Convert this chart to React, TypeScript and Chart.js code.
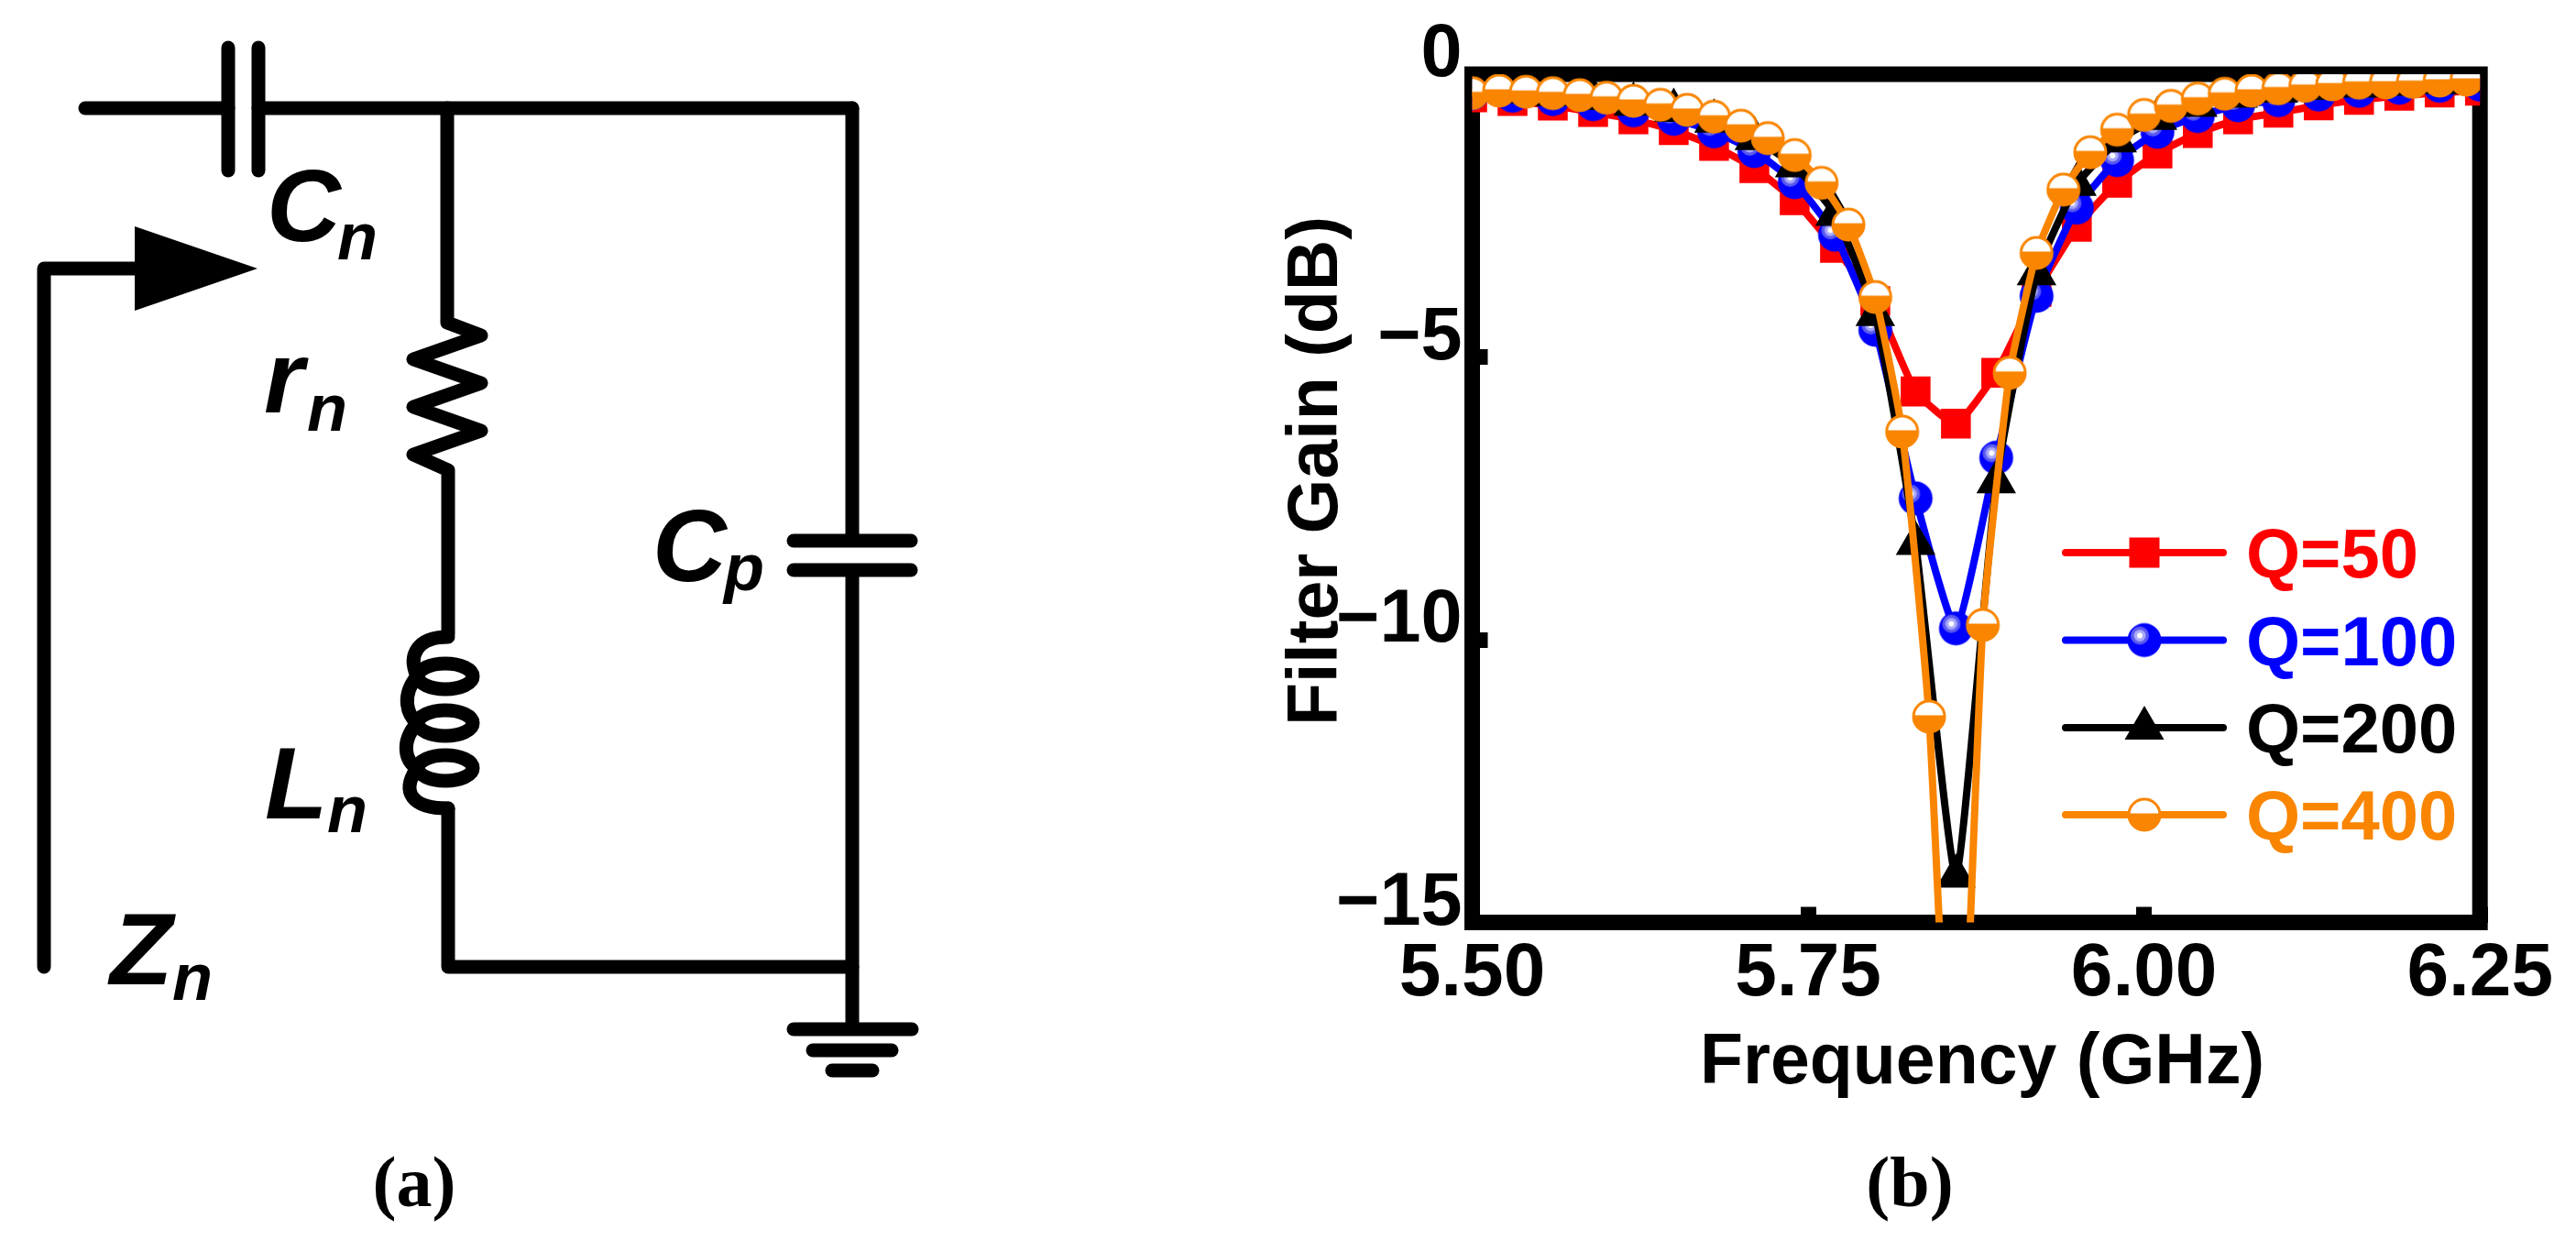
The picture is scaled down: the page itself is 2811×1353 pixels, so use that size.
import React, { useEffect, useRef } from "react";
import { Chart, registerables } from "chart.js";

Chart.register(...registerables);

const FONT = '"Liberation Sans", Arial, sans-serif';
const RED = "#ff0000";
const BLUE = "#0000ff";
const BLACK = "#000000";
const ORANGE = "#f98500";

const freqCoarse = [5.5, 5.53, 5.56, 5.59, 5.62, 5.65, 5.68, 5.71, 5.74, 5.77, 5.8, 5.83, 5.86, 5.89, 5.92, 5.95, 5.98, 6.01, 6.04, 6.07, 6.1, 6.13, 6.16, 6.19, 6.22, 6.25];
const freqFine = [5.5, 5.52, 5.54, 5.56, 5.58, 5.6, 5.62, 5.64, 5.66, 5.68, 5.7, 5.72, 5.74, 5.76, 5.78, 5.8, 5.82, 5.84, 5.86, 5.88, 5.9, 5.92, 5.94, 5.96, 5.98, 6.0, 6.02, 6.04, 6.06, 6.08, 6.1, 6.12, 6.14, 6.16, 6.18, 6.2, 6.22, 6.24];

const q50 = [-0.41, -0.475, -0.556, -0.67, -0.8, -0.99, -1.27, -1.66, -2.23, -3.07, -4.01, -5.61, -6.18, -5.28, -3.85, -2.7, -1.92, -1.4, -1.04, -0.8, -0.68, -0.55, -0.455, -0.38, -0.325, -0.29];
const q100 = [-0.34, -0.38, -0.44, -0.53, -0.64, -0.79, -1.01, -1.36, -1.91, -2.84, -4.52, -7.5, -9.8, -6.78, -3.92, -2.36, -1.52, -1.02, -0.74, -0.55, -0.46, -0.36, -0.295, -0.24, -0.205, -0.185];
const q200 = [-0.27, -0.31, -0.36, -0.43, -0.53, -0.64, -0.83, -1.14, -1.62, -2.48, -4.25, -8.3, -14.18, -7.21, -3.53, -1.95, -1.18, -0.78, -0.55, -0.39, -0.3, -0.25, -0.21, -0.18, -0.15, -0.12];
const q400 = [-0.335, -0.29, -0.31, -0.335, -0.37, -0.415, -0.47, -0.54, -0.63, -0.75, -0.91, -1.13, -1.43, -1.92, -2.66, -3.94, -6.32, -11.36, -20.5, -9.74, -5.28, -3.16, -2.04, -1.38, -0.98, -0.72, -0.56, -0.43, -0.345, -0.29, -0.25, -0.205, -0.18, -0.15, -0.146, -0.135, -0.113, -0.097];

const seriesNames = ["Q=50", "Q=100", "Q=200", "Q=400"];
const seriesColors = [RED, BLUE, BLACK, ORANGE];
const xTicks = [5.5, 5.75, 6.0, 6.25];
const yTicks = [0, -5, -10, -15];
const xTitle = "Frequency (GHz)";
const yTitle = "Filter Gain (dB)";
const captions = ["(a)", "(b)"];

function makeCanvas(size: number) {
  const c = document.createElement("canvas");
  c.width = size;
  c.height = size;
  return c;
}

function blueBall() {
  const c = makeCanvas(40);
  const g = c.getContext("2d")!;
  const m = 20;
  g.fillStyle = BLUE;
  g.beginPath(); g.arc(m, m, 18.5, 0, Math.PI * 2); g.fill();
  g.fillStyle = "#5a5af0";
  g.beginPath(); g.arc(m - 5, m - 5, 10, 0, Math.PI * 2); g.fill();
  g.fillStyle = "#a8a8f8";
  g.beginPath(); g.arc(m - 5, m - 5, 6.5, 0, Math.PI * 2); g.fill();
  g.fillStyle = "#ffffff";
  g.beginPath(); g.arc(m - 5, m - 5, 3, 0, Math.PI * 2); g.fill();
  return c;
}

function halfBall() {
  const c = makeCanvas(40);
  const g = c.getContext("2d")!;
  const m = 20;
  g.fillStyle = "#ffffff";
  g.beginPath(); g.arc(m, m, 17, 0, Math.PI * 2); g.fill();
  g.save();
  g.beginPath(); g.rect(0, m - 1.5, 40, 40); g.clip();
  g.fillStyle = ORANGE;
  g.beginPath(); g.arc(m, m, 18, 0, Math.PI * 2); g.fill();
  g.restore();
  g.strokeStyle = ORANGE;
  g.lineWidth = 3;
  g.beginPath(); g.arc(m, m, 17, 0, Math.PI * 2); g.stroke();
  return c;
}

function drawCircuit(g: CanvasRenderingContext2D) {
  g.save();
  g.strokeStyle = "#000";
  g.fillStyle = "#000";
  g.lineWidth = 15;
  g.lineCap = "round";
  g.lineJoin = "round";
  const path = (pts: number[][]) => {
    g.beginPath();
    pts.forEach((p, i) => (i ? g.lineTo(p[0], p[1]) : g.moveTo(p[0], p[1])));
    g.stroke();
  };
  // series capacitor and top rail
  path([[93, 118], [249, 118]]);
  path([[282, 118], [930, 118]]);
  path([[249, 52], [249, 186]]);
  path([[282, 52], [282, 186]]);
  // shunt branch with resistor
  path([[488, 118], [488, 352], [525, 366], [451, 392], [525, 418], [451, 444], [525, 470], [451, 496], [489, 513], [489, 692]]);
  // inductor
  g.beginPath();
  g.moveTo(489, 695);
  g.bezierCurveTo(455, 695, 445, 715, 455, 738);
  g.bezierCurveTo(437, 760, 445, 780, 455, 789);
  g.bezierCurveTo(437, 810, 442, 830, 455, 838);
  g.bezierCurveTo(437, 865, 450, 882, 489, 882);
  g.stroke();
  [738, 789, 838].forEach((y) => {
    g.beginPath();
    g.ellipse(486, y, 30, 14, 0, 0, Math.PI * 2);
    g.stroke();
  });
  path([[489, 882], [489, 1055], [930, 1055]]);
  // right rail with shunt capacitor
  path([[930, 118], [930, 587]]);
  path([[930, 623], [930, 1122]]);
  path([[866, 590], [994, 590]]);
  path([[866, 622], [994, 622]]);
  // ground
  path([[866, 1123], [995, 1123]]);
  path([[887, 1146], [973, 1146]]);
  path([[908, 1168], [952, 1168]]);
  // impedance arrow
  path([[48, 1055], [48, 293], [150, 293]]);
  g.beginPath();
  g.moveTo(147, 247);
  g.lineTo(281, 293);
  g.lineTo(147, 339);
  g.closePath();
  g.fill();
  // labels
  g.textBaseline = "alphabetic";
  g.textAlign = "left";
  const label = (main: string, x: number, y: number, sub: string, sx: number, sy: number) => {
    g.font = `italic bold 112px ${FONT}`;
    g.fillText(main, x, y);
    g.font = `italic bold 72px ${FONT}`;
    g.fillText(sub, sx, sy);
  };
  label("C", 291, 263, "n", 368, 283);
  label("r", 288, 450, "n", 335, 470);
  label("L", 289, 893, "n", 357, 908);
  label("Z", 120, 1074, "n", 188, 1091);
  label("C", 712, 634, "p", 790, 644);
  g.restore();
}

export default function App() {
  const ref = useRef<HTMLCanvasElement | null>(null);

  useEffect(() => {
    document.body.style.margin = "0";
    const ball = blueBall();
    const half = halfBall();
    const toPts = (xs: number[], ys: number[]) => xs.map((x, i) => ({ x, y: ys[i] }));
    const line = { borderWidth: 8, tension: 0.15, pointBorderWidth: 0, borderCapStyle: "round" as const, borderJoinStyle: "round" as const };

    const sheet = {
      id: "sheet",
      beforeDatasetsDraw(chart: any) {
        const { ctx, chartArea: a } = chart;
        ctx.save();
        ctx.strokeStyle = "#000";
        ctx.lineWidth = 17;
        ctx.lineJoin = "miter";
        ctx.strokeRect(a.left, a.top, a.right - a.left, a.bottom - a.top);
        ctx.restore();
      },
      afterDraw(chart: any) {
        const { ctx } = chart;
        drawCircuit(ctx);
        ctx.save();
        // axis titles
        ctx.fillStyle = "#000";
        ctx.font = `bold 77px ${FONT}`;
        ctx.textAlign = "center";
        ctx.textBaseline = "alphabetic";
        ctx.fillText(xTitle, 2163, 1182);
        ctx.save();
        ctx.translate(1459, 514);
        ctx.rotate(-Math.PI / 2);
        ctx.fillText(yTitle, 0, 0);
        ctx.restore();
        // legend
        const rows = [603, 698.5, 794, 889];
        rows.forEach((y, i) => {
          const col = seriesColors[i];
          ctx.strokeStyle = col;
          ctx.lineWidth = 8;
          ctx.lineCap = "round";
          ctx.beginPath();
          ctx.moveTo(2254, y);
          ctx.lineTo(2426, y);
          ctx.stroke();
          ctx.fillStyle = col;
          if (i === 0) ctx.fillRect(2340 - 16.5, y - 16.5, 33, 33);
          if (i === 1) ctx.drawImage(ball, 2340 - 20, y - 20);
          if (i === 2) {
            ctx.beginPath();
            ctx.moveTo(2340, y - 24);
            ctx.lineTo(2361.5, y + 13);
            ctx.lineTo(2318.5, y + 13);
            ctx.closePath();
            ctx.fill();
          }
          if (i === 3) ctx.drawImage(half, 2340 - 20, y - 20);
          ctx.fillStyle = col;
          ctx.font = `bold 76px ${FONT}`;
          ctx.textAlign = "left";
          ctx.textBaseline = "alphabetic";
          ctx.fillText(seriesNames[i], 2451, y + 27);
        });
        // captions
        ctx.fillStyle = "#000";
        ctx.font = `bold 78px "Liberation Serif", serif`;
        ctx.textAlign = "center";
        ctx.textBaseline = "alphabetic";
        ctx.fillText(captions[0], 452, 1316);
        ctx.fillText(captions[1], 2084, 1316);
        ctx.restore();
      },
    };

    const chart = new Chart(ref.current!, {
      type: "line",
      data: {
        datasets: [
          { label: seriesNames[0], data: toPts(freqCoarse, q50), borderColor: RED, backgroundColor: RED, pointStyle: "rect", pointRadius: 23, order: 4, ...line },
          { label: seriesNames[1], data: toPts(freqCoarse, q100), borderColor: BLUE, backgroundColor: BLUE, pointStyle: ball, pointRadius: 19, order: 3, ...line },
          { label: seriesNames[2], data: toPts(freqCoarse, q200), borderColor: BLACK, backgroundColor: BLACK, pointStyle: "triangle", pointRadius: 25, order: 2, ...line },
          { label: seriesNames[3], data: toPts(freqFine, q400), borderColor: ORANGE, backgroundColor: ORANGE, pointStyle: half, pointRadius: 19, order: 1, ...line },
        ],
      } as any,
      options: {
        responsive: false,
        animation: false,
        devicePixelRatio: 1,
        layout: { autoPadding: false, padding: { left: 0, top: 81, right: 98.5, bottom: 156.5 } },
        plugins: { legend: { display: false }, tooltip: { enabled: false }, title: { display: false } },
        scales: {
          x: {
            type: "linear",
            position: "bottom",
            min: 5.5,
            max: 6.25,
            afterFit: (s: any) => { s.height = 190; },
            afterBuildTicks: (s: any) => { s.ticks = xTicks.map((value) => ({ value })); },
            border: { display: false },
            grid: { drawOnChartArea: false, drawTicks: true, tickLength: -17, tickWidth: 17, tickColor: "#000" },
            ticks: { color: "#000", font: { family: FONT, size: 82, weight: "bold" }, padding: 25, maxRotation: 0, autoSkip: false, callback: (v: any) => Number(v).toFixed(2) },
          },
          y: {
            type: "linear",
            position: "left",
            min: -15,
            max: 0,
            afterFit: (s: any) => { s.width = 1606.5; },
            afterBuildTicks: (s: any) => { s.ticks = yTicks.map((value) => ({ value })); },
            border: { display: false },
            grid: { drawOnChartArea: false, drawTicks: true, tickLength: -17, tickWidth: 17, tickColor: "#000" },
            ticks: { color: "#000", font: { family: FONT, size: 81, weight: "bold" }, padding: 28, labelOffset: -20, autoSkip: false, callback: (v: any) => String(v).replace("-", "\u2212") },
          },
        },
      } as any,
      plugins: [sheet],
    });
    return () => chart.destroy();
  }, []);

  return (
    <canvas
      ref={ref}
      width={2811}
      height={1353}
      style={{ position: "absolute", left: 0, top: 0, display: "block", width: 2811, height: 1353 }}
    />
  );
}
